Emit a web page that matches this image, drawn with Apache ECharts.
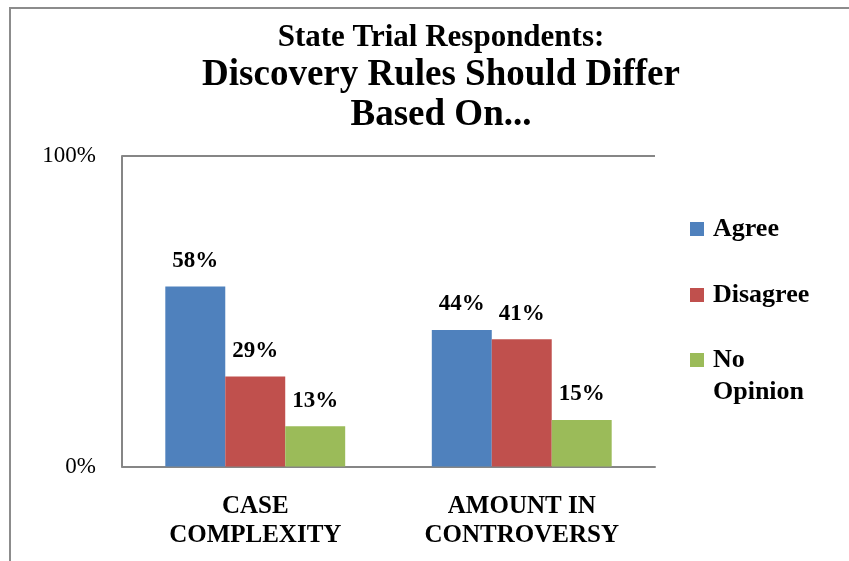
<!doctype html>
<html>
<head>
    <meta charset="UTF-8">
    <title>Discovery Rules Should Differ</title>
    <script src="https://cdn.jsdelivr.net/npm/echarts@6/dist/echarts.min.js"></script>
    <style>
        html, body { margin: 0; padding: 0; background: #fff; }
        #main { width: 849px; height: 561px; }
    </style>
</head>
<body>
<div id="main"></div>
<script>
    var categories = ['CASE\nCOMPLEXITY', 'AMOUNT IN\nCONTROVERSY'];
    var agree = [58, 44];
    var disagree = [29, 41];
    var noOpinion = [13, 15];
    var yTicks = [0, 100];

    var serif = '"Liberation Serif", "Times New Roman", serif';
    var gray = '#868686';

    var chart = echarts.init(document.getElementById('main'));

    function barSeries(name, values, color) {
        return {
            name: name,
            type: 'bar',
            data: values,
            barGap: '0%',
            barCategoryGap: '32.5%',
            itemStyle: { color: color },
            label: {
                show: true,
                position: 'top',
                distance: 14,
                formatter: '{c}%',
                fontFamily: serif,
                fontWeight: 'bold',
                fontSize: 23,
                color: '#000'
            },
            emphasis: { disabled: true },
            animation: false
        };
    }

    // one legend per entry so the wrapped "No Opinion" sits like the original
    function legendAt(name, top, extra) {
        var ts = {
            fontFamily: serif,
            fontWeight: 'bold',
            fontSize: 26,
            color: '#000',
            padding: [0, 0, 0, 4]
        };
        if (extra) { Object.assign(ts, extra); }
        return {
            data: [name],
            left: 690,
            top: top,
            padding: 0,
            itemWidth: 14,
            itemHeight: 14,
            icon: 'rect',
            selectedMode: false,
            // leading blank line keeps "No" level with the swatch
            formatter: function (n) { return n === 'No Opinion' ? '\nNo\nOpinion' : n; },
            textStyle: ts
        };
    }

    var option = {
        backgroundColor: '#fff',
        title: {
            text: '{a|State Trial Respondents:}\n{b|Discovery Rules Should Differ}\n{b|Based On...}',
            left: 436,
            top: 16,
            textAlign: 'center',
            textStyle: {
                rich: {
                    a: { fontFamily: serif, fontWeight: 'bold', fontSize: 31, lineHeight: 34, color: '#000' },
                    b: { fontFamily: serif, fontWeight: 'bold', fontSize: 37, lineHeight: 40, color: '#000' }
                }
            }
        },
        legend: [
            legendAt('Agree', 216),
            legendAt('Disagree', 282),
            legendAt('No Opinion', 312, { lineHeight: 32 })
        ],
        grid: {
            left: 122,
            right: 194,
            top: 156,
            bottom: 94.5
        },
        xAxis: {
            type: 'category',
            data: categories,
            axisLine: { show: true, lineStyle: { color: gray, width: 2 } },
            axisTick: { show: false },
            axisLabel: {
                margin: 26,
                fontFamily: serif,
                fontWeight: 'bold',
                fontSize: 25,
                lineHeight: 29,
                color: '#000'
            }
        },
        yAxis: {
            type: 'value',
            min: yTicks[0],
            max: yTicks[1],
            interval: yTicks[1] - yTicks[0],
            axisLine: { show: true, lineStyle: { color: gray, width: 2 } },
            axisTick: { show: false },
            splitLine: { show: true, lineStyle: { color: gray, width: 2 } },
            axisLabel: {
                margin: 26,
                formatter: '{value}%',
                fontFamily: serif,
                fontSize: 23,
                color: '#000'
            }
        },
        graphic: [{
            type: 'rect',
            shape: { x: 10, y: 8, width: 900, height: 600 },
            style: { fill: null, stroke: '#8c8c8c', lineWidth: 2 },
            silent: true,
            z: 100
        }],
        series: [
            barSeries('Agree', agree, '#4F81BD'),
            barSeries('Disagree', disagree, '#C0504D'),
            barSeries('No Opinion', noOpinion, '#9BBB59')
        ]
    };

    chart.setOption(option);
</script>
</body>
</html>
